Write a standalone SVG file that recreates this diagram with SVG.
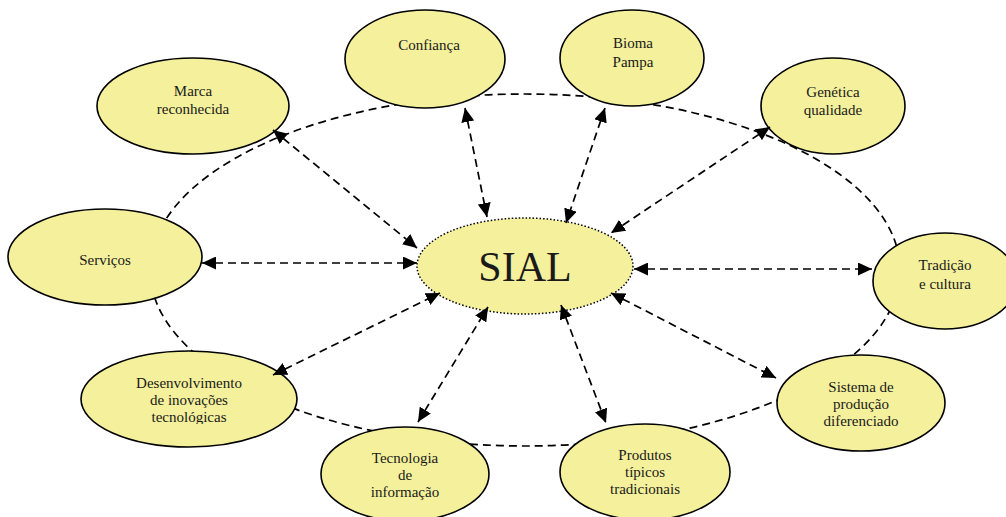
<svg xmlns="http://www.w3.org/2000/svg" width="1006" height="517" viewBox="0 0 1006 517" font-family="Liberation Serif, Times New Roman, serif">
<style>
.n{fill:#f4f09c;stroke:#000;stroke-width:1.6}
.t{font-family:'Liberation Serif','Times New Roman',serif;font-size:15px;fill:#1a1a1a;text-anchor:middle}
.c{stroke:#000;stroke-width:1.7;stroke-dasharray:8,5;fill:none}
</style>
<defs>
<marker id="a" viewBox="0 0 14 13" refX="14" refY="6.5" markerWidth="14" markerHeight="13" markerUnits="userSpaceOnUse" orient="auto-start-reverse">
<path d="M0,0L14,6.5L0,13z" fill="#000"/>
</marker>
<clipPath id="clipD"><rect x="80" y="350" width="220" height="74"/></clipPath>
</defs>
<rect width="1006" height="517" fill="#fff"/>
<ellipse id="ring" cx="525" cy="270" rx="375" ry="176" class="c"/>
<g id="marca"><ellipse class="n" cx="193" cy="106" rx="96" ry="48"/><text class="t" x="193" y="96">Marca</text><text class="t" x="193" y="114">reconhecida</text></g>
<g id="confianca"><ellipse class="n" cx="425" cy="59" rx="80" ry="49"/><text class="t" x="429" y="50">Confiança</text></g>
<g id="bioma"><ellipse class="n" cx="632" cy="58" rx="72" ry="48"/><text class="t" x="633" y="48">Bioma</text><text class="t" x="633" y="67">Pampa</text></g>
<g id="genetica"><ellipse class="n" cx="833" cy="106" rx="72" ry="48"/><text class="t" x="833" y="97">Genética</text><text class="t" x="833" y="115">qualidade</text></g>
<g id="servicos"><ellipse class="n" cx="105" cy="257" rx="97" ry="48"/><text class="t" x="105" y="265">Serviços</text></g>
<g id="tradicao"><ellipse class="n" cx="945" cy="281" rx="72" ry="48"/><text class="t" x="945" y="270">Tradição</text><text class="t" x="945" y="289">e cultura</text></g>
<g id="desenvolvimento"><ellipse class="n" cx="189" cy="399" rx="108" ry="48"/><g clip-path="url(#clipD)"><text class="t" x="189" y="388">Desenvolvimento</text><text class="t" x="189" y="405">de inovações</text><text class="t" x="189" y="422">tecnológicas</text></g></g>
<g id="tecnologia"><ellipse class="n" cx="405" cy="474" rx="84" ry="47"/><text class="t" x="405" y="463">Tecnologia</text><text class="t" x="405" y="480">de</text><text class="t" x="405" y="497">informação</text></g>
<g id="produtos"><ellipse class="n" cx="645" cy="472" rx="85" ry="48"/><text class="t" x="645" y="460">Produtos</text><text class="t" x="645" y="477">típicos</text><text class="t" x="645" y="494">tradicionais</text></g>
<g id="sistema"><ellipse class="n" cx="861" cy="403" rx="84" ry="48"/><text class="t" x="861" y="392">Sistema de</text><text class="t" x="861" y="409">produção</text><text class="t" x="861" y="426">diferenciado</text></g>
<g id="sial">
<ellipse cx="525" cy="266" rx="108" ry="48" fill="#f4f09c" stroke="#000" stroke-width="1.5" stroke-dasharray="1.5,2"/>
<text x="525" y="281" font-family="Liberation Serif, Times New Roman, serif" font-size="42" text-anchor="middle" fill="#1a1a1a">SIAL</text>
</g>
<g id="connectors">
<line class="c" x1="273" y1="130" x2="417" y2="248" marker-start="url(#a)" marker-end="url(#a)"/>
<line class="c" x1="465" y1="108" x2="487" y2="217" marker-start="url(#a)" marker-end="url(#a)"/>
<line class="c" x1="605" y1="108" x2="566" y2="223" marker-start="url(#a)" marker-end="url(#a)"/>
<line class="c" x1="770" y1="127" x2="611" y2="233" marker-start="url(#a)" marker-end="url(#a)"/>
<line class="c" x1="202" y1="263" x2="417" y2="263" marker-start="url(#a)" marker-end="url(#a)"/>
<line class="c" x1="634" y1="269" x2="872" y2="269" marker-start="url(#a)" marker-end="url(#a)"/>
<line class="c" x1="273" y1="375" x2="440" y2="293" marker-start="url(#a)" marker-end="url(#a)"/>
<line class="c" x1="418" y1="422" x2="488" y2="307" marker-start="url(#a)" marker-end="url(#a)"/>
<line class="c" x1="561" y1="305" x2="606" y2="423" marker-start="url(#a)" marker-end="url(#a)"/>
<line class="c" x1="611" y1="293" x2="776" y2="378" marker-start="url(#a)" marker-end="url(#a)"/>
</g>
</svg>
